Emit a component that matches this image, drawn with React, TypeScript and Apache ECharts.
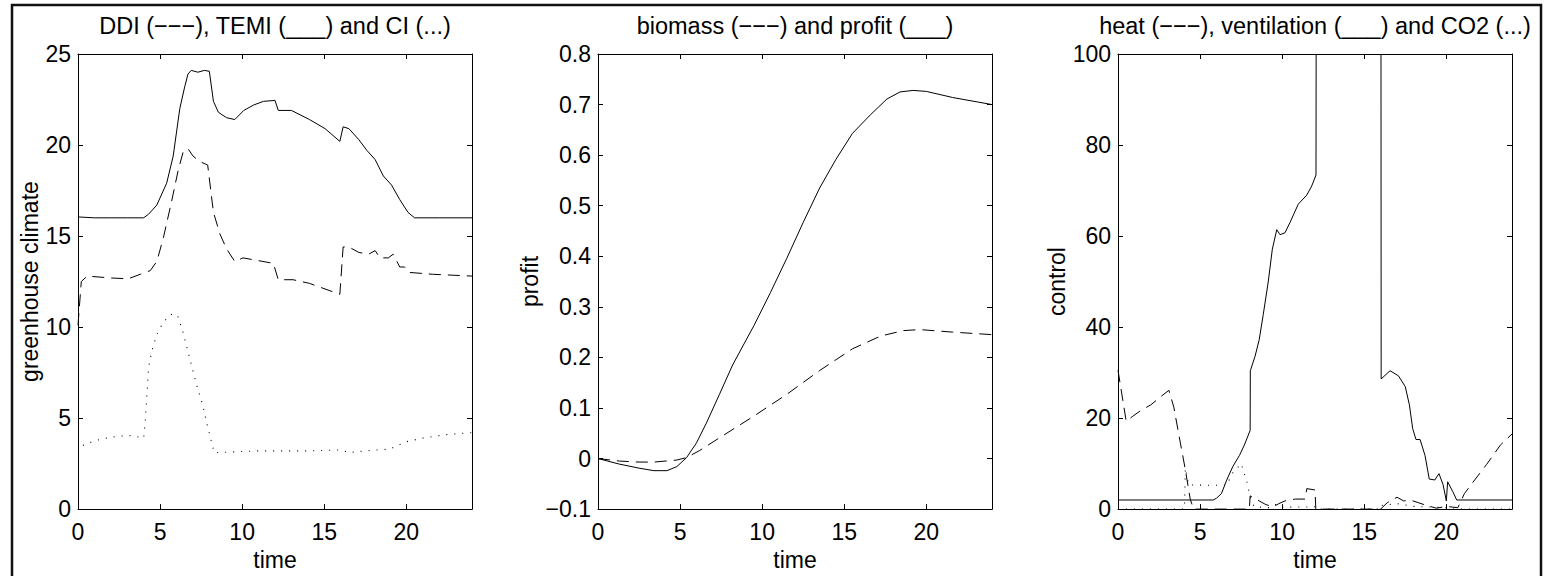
import React, { useEffect, useRef } from 'react';
import * as echarts from 'echarts';

// ---------- data ----------
const panelTitles = [
  'DDI (\u2212\u2212\u2212), TEMI (___) and CI (...)',
  'biomass (\u2212\u2212\u2212) and profit (___)',
  'heat (\u2212\u2212\u2212), ventilation (___) and CO2 (...)',
];
const yAxisNames = ['greenhouse climate', 'profit', 'control'];
const xAxisName = 'time';
const timeRange = [0, 24, 5];
const yRanges = [
  [0, 25, 5],
  [-0.1, 0.8, 0.1],
  [0, 100, 20],
];

// panel 1: greenhouse climate
const temi = [
  [0, 16.05], [1, 16.0], [2, 16.0], [3, 16.0], [4, 16.0], [4.3, 16.2], [4.8, 16.7], [5.4, 17.9],
  [5.8, 19.4], [6.2, 22.0], [6.5, 23.2], [6.7, 23.9], [6.9, 24.1], [7.3, 24.0], [7.7, 24.1], [8.0, 24.05],
  [8.25, 22.4], [8.55, 21.8], [9.05, 21.5], [9.55, 21.4], [10.1, 21.9], [10.7, 22.2], [11.3, 22.4],
  [12.0, 22.45], [12.2, 21.9], [13.0, 21.9], [14.1, 21.4], [15.05, 20.9], [15.95, 20.2], [16.15, 21.0],
  [16.5, 20.9], [17.1, 20.3], [17.6, 19.7], [18.1, 19.2], [18.6, 18.3], [19.1, 17.8], [19.6, 17.0],
  [20.1, 16.3], [20.5, 16.0], [22, 16.0], [24, 16.0],
];
const ddi = [
  [0, 10.1], [0.2, 12.5], [0.55, 12.8], [1.95, 12.7], [3.05, 12.65], [3.8, 12.9], [4.4, 13.1], [4.8, 13.6],
  [5.2, 14.9], [5.7, 16.9], [6.1, 18.6], [6.4, 19.6], [6.7, 19.8], [7.0, 19.4], [7.4, 19.1], [7.9, 18.9],
  [8.25, 16.3], [8.65, 15.1], [9.05, 14.3], [9.55, 13.6], [10.05, 13.8], [11.9, 13.5], [12.2, 12.6],
  [13.1, 12.6], [14.1, 12.4], [15.95, 11.8], [16.15, 14.4], [16.5, 14.4], [17.1, 14.1], [17.7, 14.0],
  [18.1, 14.2], [18.4, 13.8], [18.9, 13.8], [19.2, 14.0], [19.6, 13.3], [19.9, 13.3], [20.2, 13.0],
  [21.6, 12.9], [24, 12.8],
];
const ci = [
  [0.3, 3.5], [1.0, 3.75], [2.0, 3.95], [3.0, 4.05], [3.5, 4.0], [4.0, 3.9], [4.1, 4.9], [4.2, 6.3],
  [4.3, 7.8], [4.5, 8.7], [4.8, 9.6], [5.1, 10.1], [5.5, 10.6], [5.8, 10.75], [6.1, 10.55], [6.4, 9.7],
  [6.8, 8.3], [7.2, 6.9], [7.6, 5.7], [7.9, 4.5], [8.3, 3.1], [11, 3.2], [14, 3.2], [16, 3.25],
  [16.5, 3.1], [17.5, 3.2], [19, 3.3], [20, 3.7], [21, 3.9], [22.5, 4.1], [24, 4.2],
];

// panel 2: biomass and profit
const profit = [
  [0, 0], [1.3, -0.011], [2.5, -0.019], [3.4, -0.024], [4.2, -0.024], [4.8, -0.016], [5.4, 0.002],
  [6.0, 0.031], [6.6, 0.07], [7.4, 0.127], [8.2, 0.185], [9.5, 0.263], [10.5, 0.328], [11.5, 0.396],
  [12.5, 0.467], [13.5, 0.535], [14.5, 0.592], [15.5, 0.643], [16.6, 0.68], [17.6, 0.711], [18.4, 0.725],
  [19.2, 0.728], [20, 0.726], [21.6, 0.714], [24, 0.70],
];
const biomass = [
  [0, 0], [1.3, -0.005], [2.5, -0.007], [3.4, -0.007], [4.8, -0.003], [5.4, 0.002], [6.2, 0.016],
  [7.4, 0.041], [9.5, 0.084], [11.5, 0.127], [13.5, 0.174], [15.5, 0.217], [17.2, 0.242], [18.6, 0.253],
  [19.6, 0.255], [21.6, 0.25], [24, 0.245],
];

// panel 3: control
const ventilation = [
  [0, 2], [5.8, 2], [6.0, 2.4], [6.3, 3.4], [6.6, 6.2], [7.0, 9.4], [7.4, 11.8], [7.7, 14.1], [8.05, 17.3],
  [8.06, 30.4], [8.35, 33.6], [8.6, 37.2], [8.85, 42.8], [9.15, 49.9], [9.4, 57.1], [9.67, 61.4],
  [9.87, 60.3], [10.17, 60.7], [10.48, 63], [10.98, 67], [11.5, 69], [11.8, 71], [12.06, 73.4],
  [12.07, 100], [14, null], [16.02, 100], [16.03, 28.6], [16.57, 30.4], [17.08, 29.3], [17.5, 26.9],
  [17.75, 22.9], [17.95, 17.7], [18.15, 15.3], [18.4, 15.3], [18.7, 11.8], [18.96, 6.6], [19.3, 6.4],
  [19.55, 7.8], [19.8, 5.4], [20.0, 1.8], [20.08, 6.0], [20.4, 3.8], [20.63, 2.0], [24, 2],
];
const heat = [
  [0, 30.5], [0.5, 19.3], [0.9, 20.4], [1.4, 21.7], [2.0, 22.9], [2.6, 24.7], [3.1, 26.1], [3.4, 22.4],
  [3.8, 14.5], [4.1, 8.7], [4.4, 2.2], [4.6, 0], [8.0, 0], [8.05, 2.9], [8.5, 2.0], [9.0, 1.0],
  [9.46, 0.5], [9.8, 1.2], [10.17, 1.8], [10.8, 2.2], [11.4, 2.2], [11.5, 4.5], [12.0, 4.2], [12.05, 0],
  [16.0, 0], [16.4, 1.4], [17.0, 2.6], [17.4, 1.8], [17.8, 2.0], [18.3, 1.4], [18.8, 0.8], [19.4, 0.2],
  [20.0, 0.6], [20.7, 0.3], [21.1, 3.4], [21.6, 5.8], [22.45, 9.8], [23.3, 14.1], [24, 16.5],
];
const co2 = [
  [0, 0], [4.05, 0], [4.1, 9.0], [4.3, 5.3], [6.6, 5.2], [7.0, 8.0], [7.5, 10.0], [7.85, 6.0], [8.1, 2.0],
  [8.3, 0.5], [9.3, 0.3], [9.6, 1.0], [9.9, 0.4], [12.0, 0.5], [12.05, 0], [16, 0], [16.05, 0.8],
  [17, 1.2], [18, 0.6], [20, 0.3], [20.1, 0], [24, 0],
];

// ---------- layout / style ----------
const FONT = '"Liberation Sans", Arial, Helvetica, sans-serif';
const FS = 23;
const TITLE_FS = 23.5;
const GRID_LEFTS = [78, 598, 1118];
const GRID_TOP = 54;
const GRID_W = 394;
const GRID_H = 463;
const Y_NAME_GAPS = [34, 53, 36];
const DASH = [12, 7];
const DOT = [1, 7];

function fmtY(v: number, panel: number) {
  if (panel === 1) {
    if (Math.abs(v) < 1e-9) return '0';
    return (v < 0 ? '\u2212' : '') + Math.abs(v).toFixed(1);
  }
  return String(Math.round(v));
}

function lineSeries(data: any[], panel: number, kind: 'solid' | 'dash' | 'dot', name: string) {
  return {
    type: 'line',
    name,
    xAxisIndex: panel * 2,
    yAxisIndex: panel * 2,
    data,
    symbol: 'none',
    showSymbol: false,
    connectNulls: false,
    clip: true,
    silent: true,
    lineStyle: {
      color: '#000',
      width: kind === 'dot' ? 1.1 : 1,
      type: kind === 'solid' ? 'solid' : kind === 'dash' ? DASH : DOT,
    },
  };
}

export default function App() {
  const ref = useRef<HTMLDivElement>(null);
  useEffect(() => {
    if (!ref.current) return;
    const chart = echarts.init(ref.current, null, { renderer: 'svg' });
    const grids: any[] = [];
    const xAxes: any[] = [];
    const yAxes: any[] = [];
    const titles: any[] = [];
    const axisLine = { show: true, onZero: false, lineStyle: { color: '#000', width: 1 } };
    const tick = { show: true, inside: true, length: 5, lineStyle: { color: '#000', width: 1 } };
    for (let i = 0; i < 3; i++) {
      grids.push({ left: GRID_LEFTS[i], top: GRID_TOP, width: GRID_W, height: GRID_H, containLabel: false });
      const xBase = {
        type: 'value', gridIndex: i, min: timeRange[0], max: timeRange[1], interval: timeRange[2],
        axisLine, axisTick: tick, splitLine: { show: false },
      };
      xAxes.push({
        ...xBase, position: 'bottom',
        name: xAxisName, nameLocation: 'middle', nameGap: 38,
        nameTextStyle: { fontFamily: FONT, fontSize: FS, color: '#000' },
        axisLabel: {
          show: true, margin: 11, fontFamily: FONT, fontSize: FS, color: '#000',
          formatter: (v: number) => (v % 5 === 0 ? String(v) : ''),
        },
      });
      xAxes.push({ ...xBase, position: 'top', axisLabel: { show: false } });
      const [ymin, ymax, yint] = yRanges[i];
      const yBase = {
        type: 'value', gridIndex: i, min: ymin, max: ymax, interval: yint,
        axisLine, axisTick: tick, splitLine: { show: false },
      };
      yAxes.push({
        ...yBase, position: 'left',
        name: yAxisNames[i], nameLocation: 'middle', nameGap: Y_NAME_GAPS[i], nameRotate: 90,
        nameTextStyle: { fontFamily: FONT, fontSize: FS, color: '#000' },
        axisLabel: {
          show: true, margin: 7, fontFamily: FONT, fontSize: FS, color: '#000',
          formatter: (v: number) => fmtY(v, i),
        },
      });
      yAxes.push({ ...yBase, position: 'right', axisLabel: { show: false } });
      titles.push({
        text: panelTitles[i],
        left: GRID_LEFTS[i] + GRID_W / 2,
        top: 14,
        padding: 0,
        textAlign: 'center',
        textStyle: { fontFamily: FONT, fontSize: TITLE_FS, fontWeight: 'normal', color: '#000' },
      });
    }
    const option: any = {
      animation: false,
      backgroundColor: '#fff',
      title: titles,
      grid: grids,
      xAxis: xAxes,
      yAxis: yAxes,
      graphic: [
        {
          type: 'rect', silent: true, z: 100,
          shape: { x: 12, y: 5, width: 1529, height: 640 },
          style: { fill: 'none', stroke: '#111', lineWidth: 2.5 },
        },
      ],
      series: [
        lineSeries(ddi, 0, 'dash', 'DDI'),
        lineSeries(temi, 0, 'solid', 'TEMI'),
        lineSeries(ci, 0, 'dot', 'CI'),
        lineSeries(biomass, 1, 'dash', 'biomass'),
        lineSeries(profit, 1, 'solid', 'profit'),
        lineSeries(heat, 2, 'dash', 'heat'),
        lineSeries(ventilation, 2, 'solid', 'ventilation'),
        lineSeries(co2, 2, 'dot', 'CO2'),
      ],
    };
    chart.setOption(option);
    return () => chart.dispose();
  }, []);
  return (
    <div
      ref={ref}
      style={{ position: 'fixed', left: 0, top: 0, width: 1553, height: 576, background: '#fff' }}
    />
  );
}
